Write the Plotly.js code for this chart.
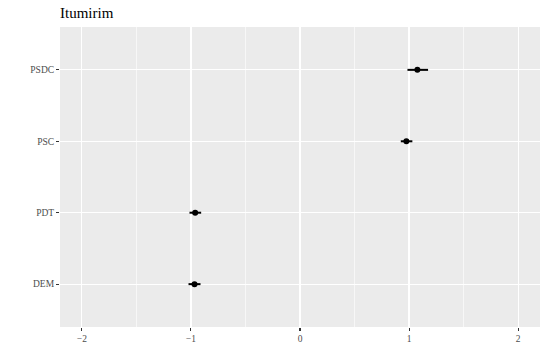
<!DOCTYPE html>
<html>
<head>
<meta charset="utf-8">
<script src="https://cdn.plot.ly/plotly-3.0.1.min.js"></script>
<style>html,body{margin:0;padding:0;background:#fff;}#chart{width:548px;height:348px;}</style>
</head>
<body>
<div id="chart"></div>
<script>
const parties = ["DEM", "PDT", "PSC", "PSDC"];
const estimates = [-0.967, -0.961, 0.975, 1.076];
const lower = [-1.022, -1.013, 0.924, 0.985];
const upper = [-0.912, -0.906, 1.03, 1.174];
const xTicks = [-2, -1, 0, 1, 2];
const xTickLabels = ["\u22122", "\u22121", "0", "1", "2"];

const serif = "Liberation Serif";

const trace = {
  type: "scatter",
  mode: "markers",
  x: estimates,
  y: parties,
  marker: {color: "#000000", size: 6},
  error_x: {
    type: "data",
    symmetric: false,
    array: upper.map((u, i) => u - estimates[i]),
    arrayminus: estimates.map((e, i) => e - lower[i]),
    width: 0,
    thickness: 2,
    color: "#000000"
  },
  hoverinfo: "skip"
};

const layout = {
  width: 548, height: 348,
  margin: {l: 60, r: 8, t: 27, b: 21},
  paper_bgcolor: "#ffffff",
  plot_bgcolor: "#EBEBEB",
  font: {family: serif, color: "#4D4D4D"},
  showlegend: false,
  title: {text: "Itumirim", x: 60/548, xanchor: "left", y: 1 - 18/348, yanchor: "bottom",
          font: {size: 15, color: "#000000", family: serif}},
  xaxis: {
    range: [-2.2, 2.2],
    tickvals: xTicks, ticktext: xTickLabels,
    showgrid: true, gridcolor: "#FFFFFF", gridwidth: 1.2,
    minor: {dtick: 0.5, tick0: 0, showgrid: true, gridcolor: "#FFFFFF", gridwidth: 0.6, ticks: ""},
    zeroline: false, showline: false,
    ticks: "outside", ticklen: 3, tickwidth: 1.1, tickcolor: "#333333",
    tickfont: {size: 9.5, color: "#4D4D4D", family: serif},
    fixedrange: true
  },
  yaxis: {
    type: "category",
    categoryorder: "array", categoryarray: parties,
    range: [-0.6, 3.6],
    showgrid: true, gridcolor: "#FFFFFF", gridwidth: 1.2,
    zeroline: false, showline: false,
    ticks: "outside", ticklen: 3, tickwidth: 1.1, tickcolor: "#333333",
    tickfont: {size: 9.5, color: "#4D4D4D", family: serif},
    fixedrange: true
  }
};

Plotly.newPlot("chart", [trace], layout, {displayModeBar: false, staticPlot: true});
</script>
</body>
</html>
